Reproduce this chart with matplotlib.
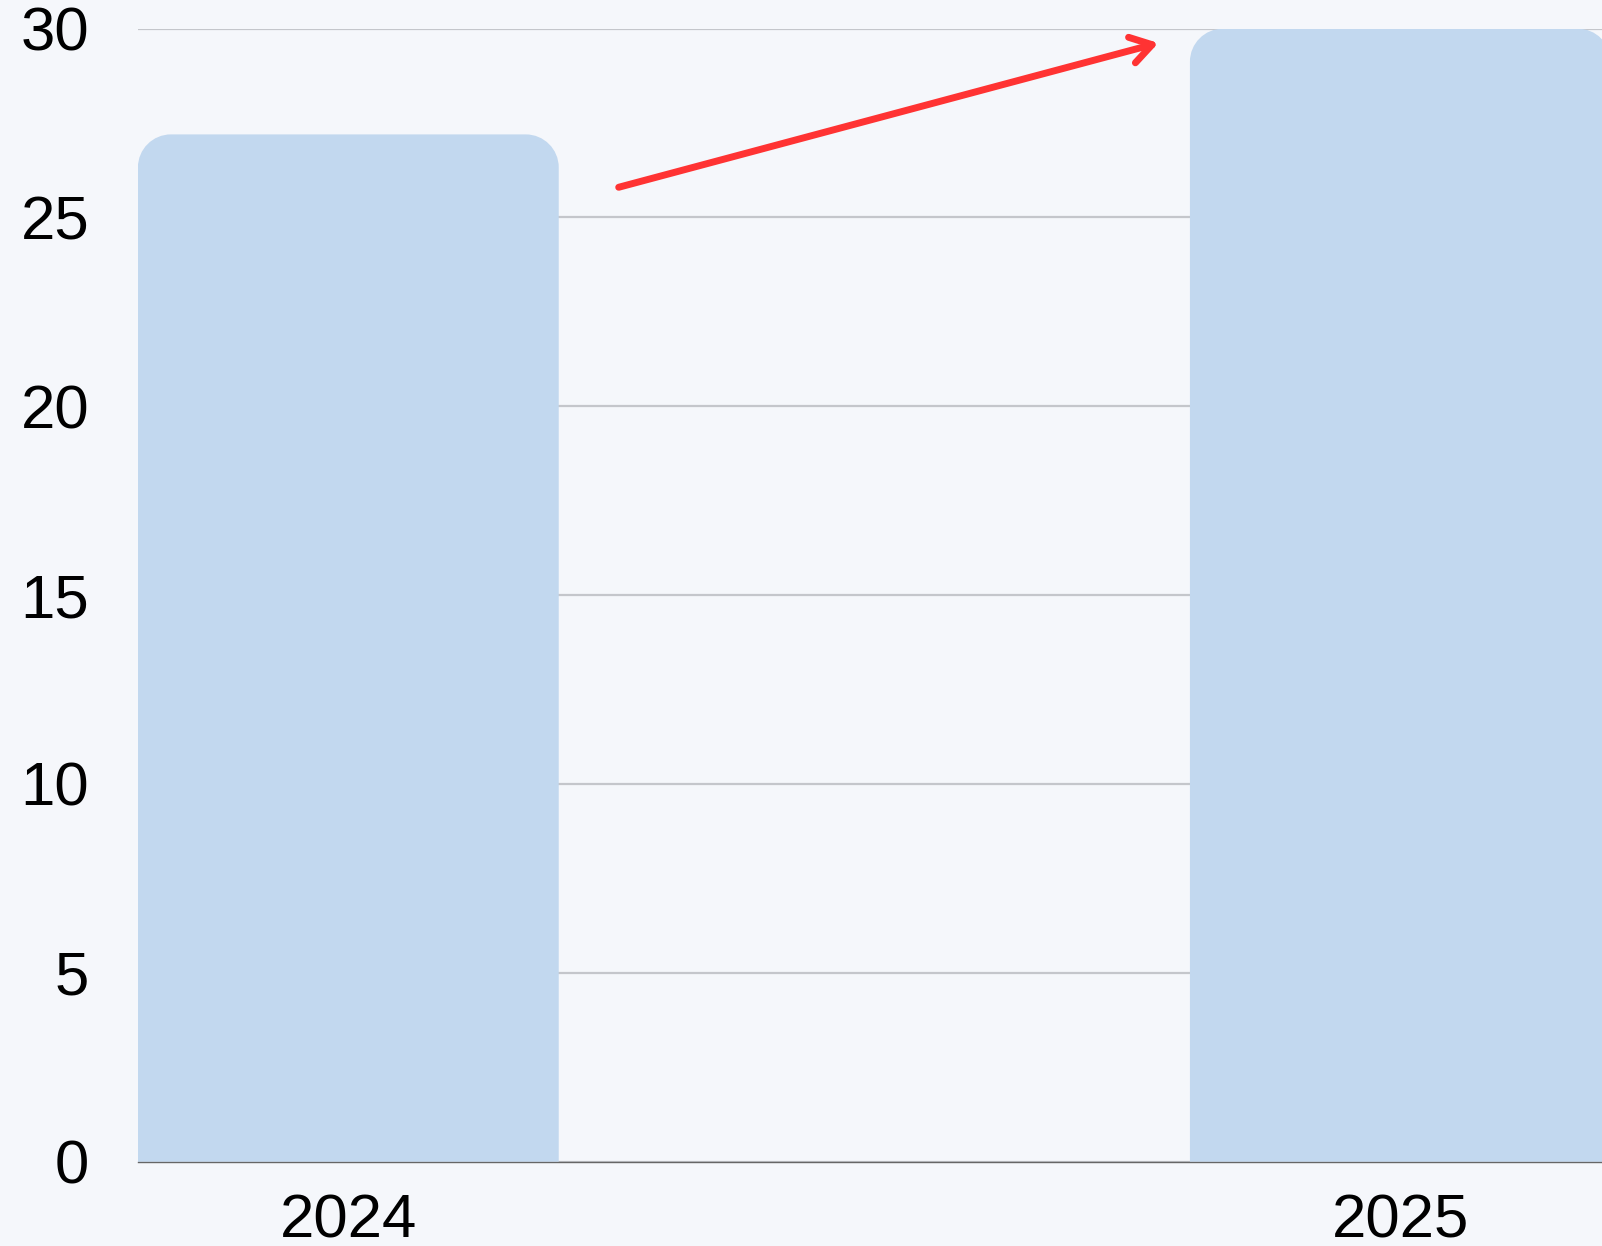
import matplotlib
matplotlib.use("Agg")
import matplotlib.pyplot as plt
from matplotlib.path import Path
from matplotlib.patches import PathPatch, ArrowStyle

categories = ["2024", "2025"]
values = [27.2, 30.0]
y_ticks = [0, 5, 10, 15, 20, 25, 30]
arrow_start = (0.257, 25.8)
arrow_end = (0.77, 29.62)

BG = "#f5f7fb"
BAR = "#c2d8ef"
GRID = "#c4c6cb"
RED = "#ff3333"

plt.rcParams["font.family"] = ["Liberation Sans", "DejaVu Sans"]

fig = plt.figure(figsize=(16.02, 12.46), dpi=100, facecolor=BG)
ax = fig.add_axes([0.0861, 0.0677, 1 - 0.0861, 0.977 - 0.0677])
ax.set_facecolor(BG)

x = list(range(len(categories)))
ax.set_xlim(-0.2, 1.1917)
ax.set_ylim(0, 30)

bars = ax.bar(x, values, width=0.4, color=BAR, zorder=2)
fig.canvas.draw()

# rounded top corners: radius in pixels converted to data units
r_px = 33
inv = ax.transData.inverted()
p0 = inv.transform((0, 0))
p1 = inv.transform((r_px, r_px))
rx, ry = p1[0] - p0[0], p1[1] - p0[1]
k = 0.5523
for b in bars:
    x0, y0 = b.get_x(), b.get_y()
    w, h = b.get_width(), b.get_height()
    x1, y1 = x0 + w, y0 + h
    verts = [
        (x0, y0), (x0, y1 - ry),
        (x0, y1 - ry + k * ry), (x0 + rx - k * rx, y1), (x0 + rx, y1),
        (x1 - rx, y1),
        (x1 - rx + k * rx, y1), (x1, y1 - ry + k * ry), (x1, y1 - ry),
        (x1, y0), (x0, y0),
    ]
    codes = [Path.MOVETO, Path.LINETO,
             Path.CURVE4, Path.CURVE4, Path.CURVE4,
             Path.LINETO,
             Path.CURVE4, Path.CURVE4, Path.CURVE4,
             Path.LINETO, Path.CLOSEPOLY]
    b.set_visible(False)
    ax.add_patch(PathPatch(Path(verts, codes), facecolor=BAR, edgecolor="none",
                           zorder=2, clip_on=True))

ax.set_yticks(y_ticks)
ax.set_yticklabels([str(t) for t in y_ticks])
ax.set_xticks(x)
ax.set_xticklabels(categories)
ax.grid(axis="y", color=GRID, linewidth=1.6, zorder=0)
ax.set_axisbelow(True)
for s in ["top", "right", "left"]:
    ax.spines[s].set_visible(False)
ax.spines["bottom"].set_color("#666666")
ax.spines["bottom"].set_linewidth(1.0)
ax.spines["bottom"].set_zorder(1)
ax.tick_params(axis="y", length=0, pad=35, labelsize=44.5, colors="black")
ax.tick_params(axis="x", length=0, pad=23, labelsize=44.5, colors="black")

ax.annotate("", xy=arrow_end, xytext=arrow_start,
            arrowprops=dict(arrowstyle=ArrowStyle("->", head_length=1.5, head_width=0.95),
                            mutation_scale=10, lw=5.0, color=RED,
                            shrinkA=0, shrinkB=0, capstyle="round", joinstyle="round"),
            zorder=5, annotation_clip=False)

fig.savefig("out.png", dpi=100, facecolor=BG)
